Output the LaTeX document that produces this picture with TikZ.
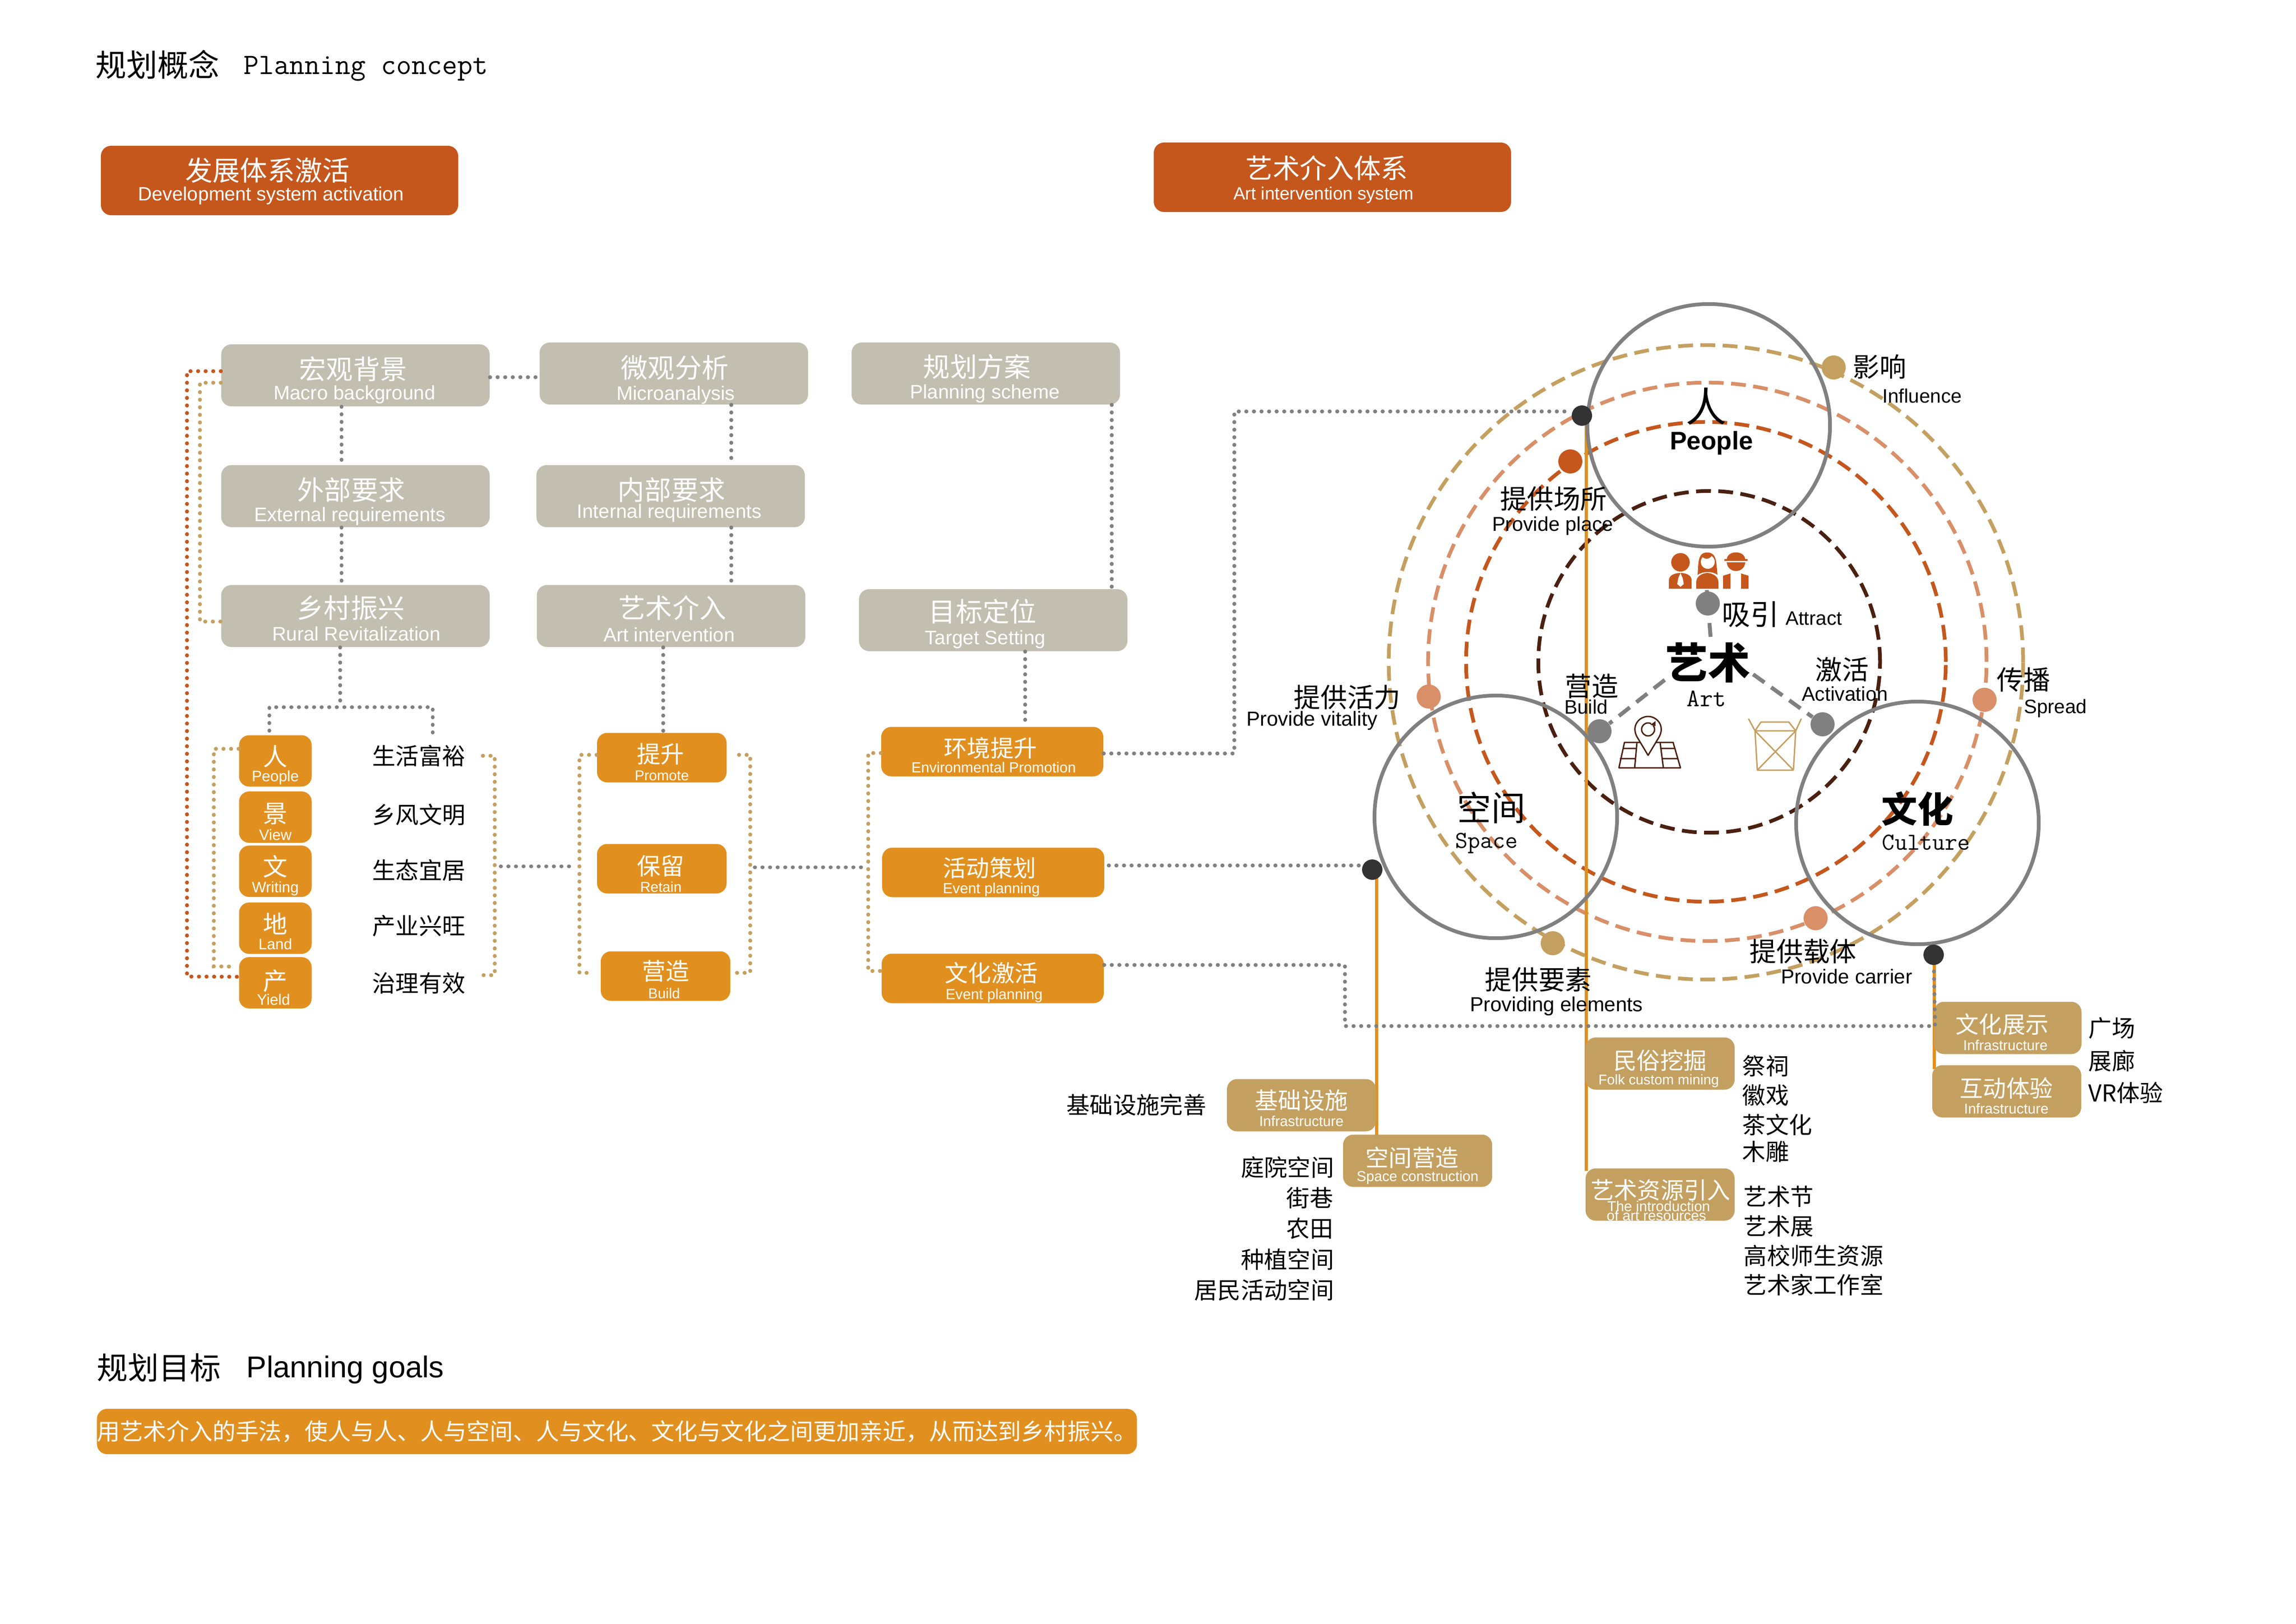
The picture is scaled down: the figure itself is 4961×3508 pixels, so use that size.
\documentclass[tikz,border=0pt]{standalone}
\usepackage{fontspec}
\setmainfont{Liberation Sans}
\newfontfamily\cjkf{Noto Sans CJK SC}
\newlength\upx \setlength\upx{0.01cm}
\newcommand\zhf[1]{\fontsize{#1}{#1}\selectfont\cjkf}
\newcommand\enf[1]{\fontsize{#1}{#1}\selectfont\rmfamily}
\newcommand\mnf[1]{\fontsize{#1}{#1}\selectfont\ttfamily}
% one line of a box, centre shifted by #3 px, baseline #4 px below the box centre
\newcommand\oneln[4]{\makebox[0pt]{\hspace{2\dimexpr#3\upx\relax}\raisebox{-#4\upx}[0pt][0pt]{#1#2}}}
\newcommand\tw[8]{\oneln{\zhf{#1}}{#2}{#3}{#4}\oneln{\enf{#5}}{#6}{#7}{#8}}
\definecolor{cOrange}{HTML}{E1901F}
\definecolor{cHead}{HTML}{C5571D}
\definecolor{cGray}{HTML}{C2BFB0}
\definecolor{cTan}{HTML}{C4A060}
\definecolor{cSalmon}{HTML}{D98F68}
\definecolor{cBrown}{HTML}{4A2010}
\definecolor{cLine}{HTML}{808080}
\definecolor{cDark}{HTML}{333333}
\tikzset{
  sz/.style 2 args={minimum width=#1*0.01cm,minimum height=#2*0.01cm},
  bx/.style={rectangle,rounded corners=0.22cm,inner sep=0pt,text=white},
  graybox/.style={bx,fill=cGray,sz={580}{134}},
  headbox/.style={bx,fill=cHead,sz={772}{150}},
  oranS/.style={bx,fill=cOrange,sz={157}{111}},
  oranM/.style={bx,fill=cOrange,sz={280}{107}},
  oranL/.style={bx,fill=cOrange,sz={480}{107}},
  tanbox/.style={bx,fill=cTan,sz={322}{113}},
  txt/.style={inner sep=0pt,text=black},
  dotted line/.style={line width=0.085cm,line cap=round,dash pattern=on 0.1pt off 0.16cm},
  gdot/.style={dotted line,draw=cLine},
  tdot/.style={dotted line,draw=cTan},
  rdot/.style={dotted line,draw=cHead},
  oline/.style={draw=cOrange,line width=0.07cm},
  ring/.style={line width=0.08cm,dash pattern=on 0.32cm off 0.16cm},
  gdash/.style={draw=cLine,line width=0.085cm,dash pattern=on 0.3cm off 0.18cm},
  bigc/.style={circle,draw=cLine,line width=0.08cm,minimum size=5.24cm,inner sep=0pt},
  ptc/.style={circle,inner sep=0pt,minimum size=0.52cm,fill=#1},
  blk/.style={circle,inner sep=0pt,minimum size=0.44cm,fill=cDark},
}
\begin{document}
\begin{tikzpicture}[x=0.01cm,y=-0.01cm]
\useasboundingbox[fill=white] (0,0) rectangle (4961,3508);

% rings
\coordinate (ctrB) at (3693,1430);
\coordinate (ctrH) at (3686,1430);
\coordinate (ctrS) at (3689,1430);
\coordinate (ctrT) at (3686,1431);
\draw[ring,draw=cBrown] (ctrB) circle [radius=3.69cm];
\draw[ring,draw=cHead] (ctrH) circle [radius=5.18cm];
\draw[ring,draw=cSalmon] (ctrS) circle [radius=6.03cm];
\draw[ring,draw=cTan] (ctrT) circle [radius=6.85cm];

% titles
\node[txt,anchor=west] (t1) at (206,140) {\zhf{19}规划概念};
\node[txt,anchor=west] (t2) at (526,148) {\mnf{18.2}Planning concept};
\node[txt,anchor=west] (t3) at (209,2955) {\zhf{19}规划目标};
\node[txt,anchor=west] (t4) at (532,2960) {\enf{18.5}Planning goals};

% orange verticals (under the boxes)
\coordinate (vA) at (3427,898);
\coordinate (vB) at (2974,1879);
\coordinate (vC) at (4179,2063);
\coordinate (vA2) at (3427,2530);
\coordinate (vB2) at (2974,2460);
\coordinate (vC2) at (4179,2310);
\draw[oline] (vB) -- (vB2);
\draw[oline] (vA) -- (vA2);
\draw[oline] (vC) -- (vC2);

% header boxes
\node[headbox] (dev) at (604,390) {\tw{16.8}{发展体系激活}{-26}{0}{11.8}{Development system activation}{-18}{43}};
\node[headbox] (sys) at (2879,383) {\tw{16.6}{艺术介入体系}{-12}{2}{10.9}{Art intervention system}{-19}{48}};

% gray boxes
\node[graybox] (macro) at (768,811) {\tw{16.5}{宏观背景}{-5}{8}{12}{Macro background}{-2}{52}};
\node[graybox] (micro) at (1456,807) {\tw{16.5}{微观分析}{2}{9}{12}{Microanalysis}{4}{57}};
\node[graybox] (ext) at (768,1072) {\tw{16.5}{外部要求}{-9}{8}{12}{External requirements}{-12}{54}};
\node[graybox] (inte) at (1449,1072) {\tw{16.5}{内部要求}{2}{8}{12}{Internal requirements}{-3}{47}};
\node[graybox] (rural) at (768,1331) {\tw{16.5}{乡村振兴}{-10}{4}{12}{Rural Revitalization}{2}{53}};
\node[graybox] (artin) at (1450,1331) {\tw{16.5}{艺术介入}{3}{4}{12}{Art intervention}{-4}{55}};
\node[graybox] (plan) at (2130,807) {\tw{16.5}{规划方案}{-19}{7}{12}{Planning scheme}{-2}{54}};
\node[graybox] (target) at (2146,1340) {\tw{16.5}{目标定位}{-23}{3}{12}{Target Setting}{-17}{52}};

% small orange boxes
\node[oranS] (p1) at (595,1644) {\tw{15}{人}{0}{10}{9.3}{People}{0}{44}};
\node[oranS] (p2) at (595,1765.5) {\tw{15}{景}{0}{12}{9.3}{View}{0}{50}};
\node[oranS] (p3) at (595,1882.5) {\tw{15}{文}{0}{10}{9.3}{Writing}{0}{46}};
\node[oranS] (p4) at (595,2005.5) {\tw{15}{地}{0}{11}{9.3}{Land}{0}{46}};
\node[oranS] (p5) at (595,2123.5) {\tw{15}{产}{0}{16}{9.3}{Yield}{-4}{48}};

\node[oranM] (prom) at (1430,1637) {\tw{14.5}{提升}{-3}{11}{8.8}{Promote}{0}{49}};
\node[oranM] (reta) at (1430,1877) {\tw{14.5}{保留}{-3}{13}{8.8}{Retain}{-2}{50}};
\node[oranM] (build) at (1438,2109) {\tw{14.5}{营造}{0}{8}{8.8}{Build}{-3}{48}};

\node[oranL] (env) at (2144,1624) {\tw{14.3}{环境提升}{-4}{11}{9}{Environmental Promotion}{3}{45}};
\node[oranL] (act) at (2146,1885) {\tw{14.3}{活动策划}{-8}{9}{9}{Event planning}{-4}{45}};
\node[oranL] (wh) at (2145,2114) {\tw{14.3}{文化激活}{-3}{7}{9}{Event planning}{3}{45}};

% life texts
\node[txt] (life1) at (905,1633) {\zhf{14.3}生活富裕};
\node[txt] (life2) at (905,1760) {\zhf{14.3}乡风文明};
\node[txt] (life3) at (905,1880) {\zhf{14.3}生态宜居};
\node[txt] (life4) at (905,2001) {\zhf{14.3}产业兴旺};
\node[txt] (life5) at (905,2124) {\zhf{14.3}治理有效};

% tan boxes
\node[tanbox] (jc) at (2812,2388) {\tw{14.3}{基础设施}{0}{8}{8.8}{Infrastructure}{0}{45}};
\node[tanbox] (kj) at (3063,2508) {\tw{14.3}{空间营造}{-12}{12}{8.8}{Space construction}{0}{44}};
\node[tanbox] (ms) at (3587,2298) {\tw{14.3}{民俗挖掘}{0}{12}{8.6}{Folk custom mining}{-3}{45}};
\node[tanbox] (ys) at (3587,2581) {\oneln{\zhf{14.3}}{艺术资源引入}{1}{9}\oneln{\enf{8.8}}{The introduction}{-3}{36}\oneln{\enf{8.8}}{of art resources}{-8}{56}};
\node[tanbox,sz={319}{113}] (wz) at (4338,2221) {\tw{14.3}{文化展示}{-12}{11}{8.8}{Infrastructure}{-5}{48}};
\node[tanbox] (hd) at (4336,2358) {\tw{14.3}{互动体验}{-1}{12}{8.8}{Infrastructure}{-1}{48}};

% target bar
\node[bx,fill=cOrange,sz={2243}{98}] (bar) at (1333,3093) {\zhf{14.2}用艺术介入的手法，使人与人、人与空间、人与文化、文化与文化之间更加亲近，从而达到乡村振兴。};

% lists
\node[txt,anchor=east] (q0) at (2607,2387) {\zhf{14.3}基础设施完善};
\node[txt,anchor=east] (q1) at (2883,2522) {\zhf{14.3}庭院空间};
\node[txt,anchor=east] (q2) at (2881,2588) {\zhf{14.3}街巷};
\node[txt,anchor=east] (q3) at (2881,2654) {\zhf{14.3}农田};
\node[txt,anchor=east] (q4) at (2883,2721) {\zhf{14.3}种植空间};
\node[txt,anchor=east] (q5) at (2883,2787) {\zhf{14.3}居民活动空间};
\node[txt,anchor=west] (r1) at (3764,2303) {\zhf{14.3}祭祠};
\node[txt,anchor=west] (r2) at (3764,2366) {\zhf{14.3}徽戏};
\node[txt,anchor=west] (r3) at (3764,2430) {\zhf{14.3}茶文化};
\node[txt,anchor=west] (r4) at (3764,2488) {\zhf{14.3}木雕};
\node[txt,anchor=west] (s1) at (3767,2585) {\zhf{14.3}艺术节};
\node[txt,anchor=west] (s2) at (3767,2649) {\zhf{14.3}艺术展};
\node[txt,anchor=west] (s3) at (3767,2713) {\zhf{14.3}高校师生资源};
\node[txt,anchor=west] (s4) at (3767,2776) {\zhf{14.3}艺术家工作室};
\node[txt,anchor=west] (u1) at (4512,2222) {\zhf{14.3}广场};
\node[txt,anchor=west] (u2) at (4512,2292) {\zhf{14.3}展廊};
\node[txt,anchor=west] (u3) at (4512,2361) {\zhf{14.3}VR体验};

% big circles and dots
\node[bigc] (cP) at (3692,919) {};
\node[bigc] (cS) at (3232,1765) {};
\node[bigc] (cC) at (4143,1778) {};

\node[blk] (dotA) at (3418,898) {};
\node[blk] (dotB) at (2965,1879) {};
\node[blk] (dotC) at (4178,2063) {};
\node[ptc=cHead] (d1) at (3393,997) {};
\node[ptc=cSalmon] (d2) at (3087,1505) {};
\node[ptc=cSalmon] (d3) at (4288,1512) {};
\node[ptc=cSalmon] (d4) at (3923,1984) {};
\node[ptc=cTan] (d5) at (3962,794) {};
\node[ptc=cTan] (d6) at (3355,2038) {};

% centre labels
\node[txt,sz={175}{87}] (art) at (3690,1432) {\zhf{26}\bfseries 艺术};
\node[txt] (artE) at (3687,1510) {\mnf{15.5}Art};
\coordinate (artT) at (3696,1376);
\coordinate (artL) at (3597,1469);
\coordinate (artR) at (3788,1457);
\coordinate (topTick) at (3688,1275);
\draw[gdash] (artT) -- (topTick);
\node[ptc=cLine] (gA) at (3690,1304) {};
\node[ptc=cLine] (gB) at (3456,1580) {};
\node[ptc=cLine] (gC) at (3938,1565) {};
\draw[gdash] (artL) -- (gB);
\draw[gdash] (artR) -- (gC);

% labels around circles
\node[txt] (lP) at (3686,878) {\zhf{25}人};
\node[txt] (lPe) at (3698,957) {\enf{15.6}\bfseries People};
\node[txt] (lS) at (3222,1745) {\zhf{21}空间};
\node[txt] (lSe) at (3212,1822) {\mnf{14.9}Space};
\node[txt] (lC) at (4143,1748) {\zhf{22}\bfseries 文化};
\node[txt] (lCe) at (4162,1820) {\mnf{15}Culture};
\node[txt] (a1) at (3357,1078) {\zhf{16.4}提供场所};
\node[txt] (a1e) at (3355,1136) {\enf{12.3}Provide place};
\node[txt] (a2) at (3782,1327) {\zhf{17.5}吸引};
\node[txt] (a2e) at (3919,1336) {\enf{12}Attract};
\node[txt] (a3) at (3980,1447) {\zhf{16.4}激活};
\node[txt] (a3e) at (3986,1499) {\enf{12.2}Activation};
\node[txt] (a4) at (3439,1483) {\zhf{16.4}营造};
\node[txt] (a4e) at (3427,1527) {\enf{12}Build};
\node[txt] (a5) at (4061,792) {\zhf{16.4}影响};
\node[txt] (a5e) at (4153,855) {\enf{12}Influence};
\node[txt] (a6) at (4372,1469) {\zhf{16.4}传播};
\node[txt] (a6e) at (4441,1531) {\enf{12}Spread};
\node[txt] (a7) at (2911,1507) {\zhf{16.4}提供活力};
\node[txt] (a7e) at (2835,1557) {\enf{12.5}Provide vitality};
\node[txt] (a8) at (3324,2117) {\zhf{16.4}提供要素};
\node[txt] (a8e) at (3363,2174) {\enf{12.5}Providing elements};
\node[txt] (a9) at (3896,2056) {\zhf{16.4}提供载体};
\node[txt] (a9e) at (3990,2110) {\enf{12.4}Provide carrier};

% people icon
\fill[cHead] (3631,1215) circle [radius=0.2cm];
\fill[cHead] (3606,1272) -- (3606,1254) .. controls (3606,1242) and (3620,1238) .. (3631,1238) .. controls (3642,1238) and (3655,1242) .. (3655,1254) -- (3655,1272) -- cycle;
\fill[white] (3631,1238) -- (3626,1250) -- (3624,1262) -- (3631,1268) -- (3638,1262) -- (3636,1250) -- cycle;
\fill[cHead] (3668,1242) .. controls (3670,1215) and (3668,1194) .. (3689,1194) .. controls (3710,1194) and (3708,1215) .. (3711,1242) .. controls (3700,1234) and (3680,1234) .. cycle;
\fill[white] (3690,1214) circle [radius=0.15cm];
\fill[cHead] (3675,1200) .. controls (3685,1212) and (3695,1208) .. (3700,1198) .. controls (3695,1192) and (3680,1192) .. cycle;
\fill[cHead] (3665,1272) -- (3665,1258) .. controls (3665,1244) and (3680,1238) .. (3689,1238) .. controls (3698,1238) and (3713,1244) .. (3713,1258) -- (3713,1272) -- cycle;
\fill[cHead] (3731,1210) .. controls (3731,1188) and (3771,1188) .. (3771,1210) -- cycle;
\fill[cHead] (3726,1208) rectangle (3776,1212);
\fill[cHead] (3731,1215) .. controls (3733,1240) and (3769,1240) .. (3771,1215) -- cycle;
\fill[cHead] (3723,1272) -- (3723,1244) -- (3739,1239) -- (3739,1272) -- cycle;
\fill[cHead] (3762,1272) -- (3762,1239) -- (3778,1244) -- (3778,1272) -- cycle;

% map icon
\draw[cBrown,line width=0.03cm,line join=round] (3510,1604) -- (3615,1604) -- (3631,1659) -- (3498,1659) -- cycle
  (3537,1604) -- (3532,1659) (3587,1604) -- (3594,1659)
  (3506,1617) -- (3537,1617) (3500,1639) -- (3533,1639)
  (3587,1617) -- (3619,1617) (3590,1639) -- (3625,1639);
\draw[cBrown,line width=0.03cm,line join=round,fill=white] (3561,1632) -- (3537,1592) .. controls (3524,1568) and (3542,1548) .. (3561,1548) .. controls (3580,1548) and (3598,1568) .. (3585,1592) -- cycle;
\draw[cBrown,line width=0.03cm] (3561,1576) circle [radius=0.14cm];
\fill[white] (3568,1560) rectangle (3578,1568);
\fill[cBrown] (3566,1566) -- (3577,1569) -- (3577,1558) -- cycle;

% box icon
\draw[cTan,line width=0.03cm,line join=round] (3778,1553) -- (3792,1579) -- (3805,1560) -- (3865,1560) -- (3880,1579) -- (3892,1553)
  (3792,1579) -- (3880,1579) -- (3875,1664) -- (3797,1664) -- cycle
  (3792,1579) -- (3875,1664) (3880,1579) -- (3797,1664);

% connectors
\draw[gdot] ([yshift=-0.04cm]macro.east) -- ([yshift=-0.08cm]micro.west);
\draw[gdot] ([xshift=-0.3cm]macro.south) -- ([xshift=-0.3cm]ext.north);
\draw[gdot] ([xshift=-0.3cm]ext.south) -- ([xshift=-0.3cm]rural.north);
\draw[gdot] ([xshift=1.24cm]micro.south) -- ([xshift=1.31cm]inte.north);
\draw[gdot] ([xshift=1.31cm]inte.south) -- ([xshift=1.30cm]artin.north);
\draw[gdot] ([xshift=2.72cm]plan.south) -- ([xshift=2.56cm]target.north);
\draw[gdot] ([xshift=0.69cm]target.south) -- ([xshift=0.71cm]env.north);
\draw[gdot] ([xshift=-0.17cm]artin.south) -- ([xshift=0.03cm]prom.north);
\coordinate (brn) at (735,1528);
\draw[gdot] ([xshift=-0.33cm]rural.south) -- (brn);
\draw[gdot] ([xshift=-0.13cm,yshift=0.09cm]p1.north) |- (brn) -| ([xshift=0.30cm,yshift=0.13cm]life1.north);
\coordinate (rl) at (404,2110);
\draw[rdot] ([yshift=0.09cm]macro.west) -| (rl) -- ([yshift=0.13cm]p5.west);
\coordinate (tl) at (432,1343);
\draw[tdot] ([yshift=-0.16cm]macro.west) -| (tl) -- ([yshift=-0.12cm]rural.west);
\coordinate (pl) at (462,2088);
\draw[tdot] ([yshift=0.26cm]p1.west) -| (pl) -- ([yshift=0.35cm,xshift=-0.2cm]p5.west);
\coordinate (lr) at (1069,2107);
\draw[tdot] ([xshift=0.37cm]life1.east) -| (lr) -- ([xshift=0.24cm,yshift=0.17cm]life5.east);
\coordinate (m1) at (1082,1872);
\coordinate (m2) at (1234,1872);
\draw[gdot] (m1) -- (m2);
\coordinate (bl) at (1252,2102);
\draw[tdot] ([yshift=0.06cm]prom.west) -| (bl) -- ([xshift=-0.19cm,yshift=0.07cm]build.west);
\coordinate (brr) at (1621,2102);
\draw[tdot] ([xshift=0.26cm,yshift=0.06cm]prom.east) -| (brr) -- ([xshift=0.04cm,yshift=0.07cm]build.east);
\coordinate (m3) at (1631,1874);
\coordinate (m4) at (1866,1874);
\draw[gdot] (m3) -- (m4);
\coordinate (el) at (1876,2098);
\draw[tdot] ([yshift=-0.03cm]env.west) -| (el) -- ([yshift=0.16cm]wh.west);
\coordinate (gt) at (2667,889);
\draw[gdot] ([yshift=-0.04cm]env.east) -| (gt) -- ([yshift=0.09cm]dotA.west);
\draw[gdot] ([xshift=0.09cm,yshift=0.15cm]act.east) -- ([yshift=0.09cm]dotB.west);
\coordinate (w1) at (2906,2217);
\coordinate (w2) at (4181,2217);
\draw[gdot] ([yshift=0.29cm]wh.east) -| (w1) -- (w2) -- (dotC);
\end{tikzpicture}
\end{document}
